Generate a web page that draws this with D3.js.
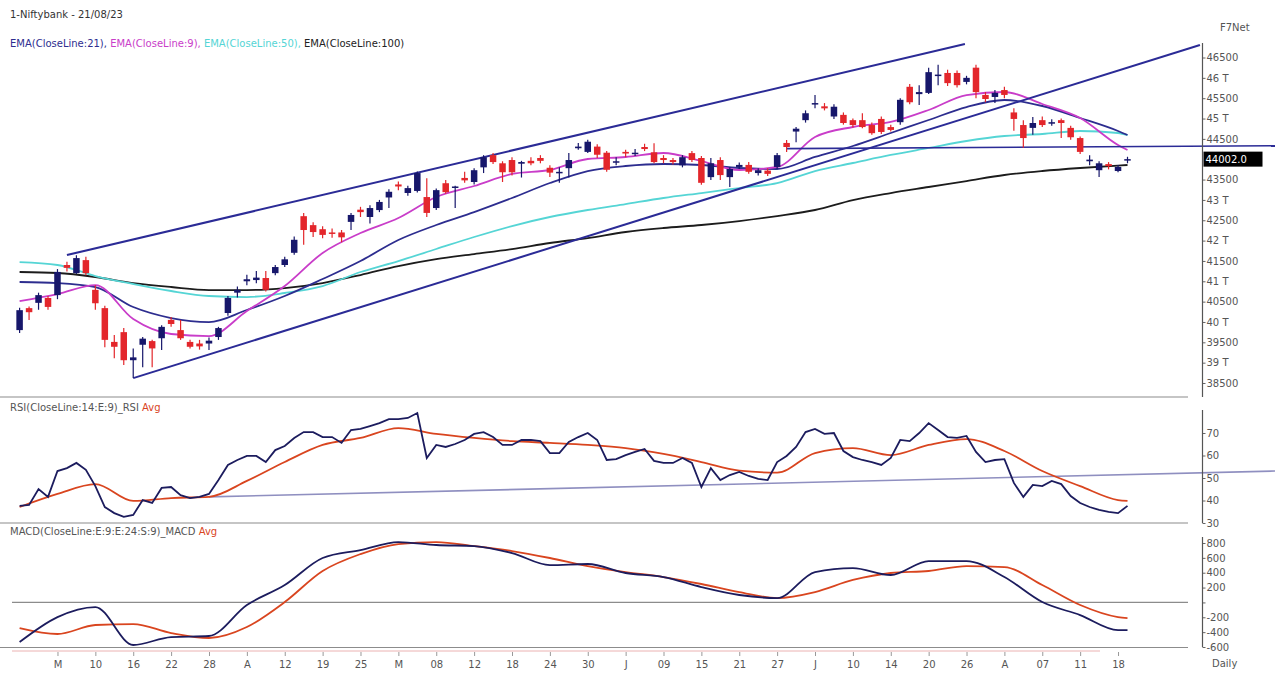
<!DOCTYPE html>
<html><head><meta charset="utf-8">
<script src="https://cdn.jsdelivr.net/npm/d3@7"></script>
<style>body{margin:0;background:#fff;} svg{display:block;font-family:"DejaVu Sans",Verdana,sans-serif;}</style>
</head><body><svg id="c" width="1275" height="685"></svg>
<script>
// ---------- DATA ----------
const open  = [39800,40340,40470,40590,40660,41400,41200,41520,40790,40340,39510,39750,39060,39440,39530,39600,40050,39800,39510,39470,39470,39630,40220,40720,41000,41030,41080,41200,41400,41700,42600,42380,42280,42200,42200,42460,42760,42580,42750,43060,43380,43170,43220,43070,42800,43410,43300,43540,43440,43800,44100,43900,43980,43890,43960,44030,43790,43660,43780,44270,44180,44310,44160,43920,44180,44130,44300,44170,44030,43980,43850,44150,44030,43560,43980,43560,43810,43860,43660,43720,43810,44400,44680,44960,45350,45300,45050,45090,44960,44960,44840,44990,44790,44910,45780,45600,45630,46050,46120,46120,45900,46250,45580,45530,45700,45150,44840,44770,44960,44880,44960,44770,44520,43950,43730,43880,43710,43970];
const high  = [40350,40380,40720,40640,41300,41480,41640,41600,40900,40400,39680,39850,39350,39630,39560,39920,40120,40050,39560,39560,39620,39880,40640,40870,41160,41250,41250,41400,41600,42100,42680,42450,42350,42300,42260,42680,42830,42870,43000,43260,43450,43350,43700,43530,43280,43490,43350,43690,43780,44100,44150,43950,44050,43960,44050,44100,43850,43800,44150,44400,44480,44370,44200,44050,44230,44250,44380,44390,44100,44030,44100,44200,44080,44030,44050,43800,43920,43930,43780,43780,44150,44470,44790,45200,45580,45380,45350,45150,45000,45130,44900,45050,44850,45500,45850,45820,46250,46320,46200,46180,46050,46320,45650,45700,45780,45250,44960,45040,45050,44980,45000,44820,44560,44100,43950,43930,43860,44060];
const low   = [39730,40050,40300,40300,40560,41240,41180,41150,40300,39380,39110,38940,38620,38890,38890,39310,39880,39560,39350,39320,39310,39560,40150,40600,40900,40950,40750,41150,41350,41650,41900,42090,42060,42070,41960,42260,42580,42420,42700,42800,43240,43100,43180,42580,42750,43150,42800,43420,43380,43660,43880,43440,43600,43550,43850,43900,43560,43420,43550,44230,44150,44030,43690,43850,44050,44080,44200,43900,43900,43870,43800,43930,43370,43490,43490,43320,43760,43640,43600,43590,43760,44180,44420,44900,45250,45200,44990,44850,44780,44760,44600,44620,44680,44850,45350,45330,45600,45820,45800,45760,45840,45500,45400,45380,45500,44700,44280,44600,44790,44820,44520,44480,44130,43850,43560,43750,43680,43900];
const close = [40290,40240,40660,40370,41230,41330,41570,41200,40460,39560,39390,39060,39130,39590,39350,39880,39950,39600,39390,39400,39540,39850,40590,40790,41050,41090,40790,41350,41540,42020,42260,42210,42140,42170,42080,42630,42700,42800,42950,43200,43330,43290,43660,42680,43240,43190,43330,43480,43730,44050,43930,43680,43680,43930,43900,43960,43670,43690,43980,44310,44430,44110,43740,43950,44140,44160,44250,43930,43980,43930,44050,43980,43420,43900,43610,43760,43860,43690,43730,43640,44100,44300,44750,45130,45380,45250,45290,44890,44840,44790,44640,44670,44720,45460,45400,45650,46140,46080,45870,45820,46000,45650,45480,45630,45580,44990,44520,44890,44840,44910,44890,44540,44180,43990,43900,43830,43810,44002];

// x-axis categories (every 4th session)
const tickIdx    = [4,8,12,16,20,24,28,32,36,40,44,48,52,56,60,64,68,72,76,80,84,88,92,96,100,104,108,112,116];
const tickLabels = ["M","10","16","22","28","A","12","19","25","M","08","12","18","24","30","J","09","15","21","27","J","10","14","20","26","A","07","11","18"];

// sampled indicator series (sessions listed in sampleIdx)
const sampleIdx = [0,4,8,12,16,20,24,28,32,36,40,44,48,52,56,60,64,68,72,76,80,84,88,92,96,100,104,108,112,116,117];
const ema100 = [41228,41203,41105,40957,40859,40785,40785,40834,40957,41154,41375,41547,41670,41793,41941,42063,42211,42309,42383,42481,42604,42752,42997,43169,43317,43464,43612,43710,43784,43845,43858];
const ema50  = [41473,41400,41129,40933,40761,40638,40613,40712,40883,41228,41498,41793,42088,42358,42580,42752,42899,43047,43169,43292,43415,43710,43907,44104,44276,44448,44571,44620,44693,44644,44595];
const ema21  = [40982,40957,40859,40367,40097,39998,40294,40638,41055,41498,42014,42383,42702,43047,43415,43710,43833,43882,43858,43784,43759,44055,44325,44644,44964,45283,45455,45308,45013,44693,44595];
const ema9   = [40515,40687,40908,40072,39704,39654,40269,40883,41695,42186,42555,43071,43342,43637,43735,44005,44055,44153,43956,43735,43809,44546,44792,44915,45210,45578,45652,45357,45013,44349,44226];

const rsi = [37.6,38.0,45.1,41.6,53.1,54.4,56.7,53.6,46.4,37.1,34.4,32.7,33.6,40.2,38.9,45.6,46.0,42.4,41.1,41.6,42.9,49.1,55.8,58.0,59.8,59.8,57.1,62.4,64.2,67.8,70.4,70.4,68.2,68.2,65.6,71.3,71.8,73.1,74.4,76.2,76.2,76.7,78.9,58.9,64.7,63.8,65.1,66.9,69.6,70.4,68.2,64.7,64.7,66.9,66.9,66.4,61.1,61.1,66.0,68.2,70.0,66.9,58.0,58.4,60.2,61.6,62.9,57.6,56.7,56.7,58.9,56.7,46.0,54.4,49.1,51.3,52.7,50.9,49.6,49.1,57.1,59.8,63.8,70.4,71.8,69.6,70.0,62.0,59.3,58.0,57.1,55.8,58.9,66.9,66.4,70.0,74.4,71.3,68.2,67.8,68.7,61.6,57.1,58.0,58.4,47.8,41.6,46.9,46.4,48.7,47.3,42.0,38.9,37.1,35.8,34.9,34.4,37.6];
const rsiAvg  = [37.1,42.9,47.3,39.8,41.1,41.6,48.7,57.1,64.7,67.8,72.2,69.6,67.8,66.4,65.6,64.7,63.3,60.7,57.1,53.3,52.4,61.1,63.3,60.2,64.7,67.3,62.0,53.1,46.4,40.2,39.8];
const macd    = [-533,-197,-62,-573,-466,-452,-35,234,598,705,813,773,759,665,503,517,396,342,207,100,59,409,463,369,557,557,342,5,-170,-372,-372];
const macdAvg = [-345,-425,-304,-291,-412,-479,-331,5,423,651,786,813,759,692,598,490,409,342,248,140,59,140,302,396,423,490,476,234,-35,-197,-210];

// drawn trend lines (session index, value)
const upperIdx = [5.0, 99.83],  upperPrice = [41645, 46832];
const lowerIdx = [12, 124.65],  lowerPrice = [38620, 46807];
const hIdx     = [81, 132.6],   hPrice     = [44260, 44330];
const rsiTrIdx = [20, 132.6],   rsiTrVal   = [41.6, 53.1];

// 44000 is covered by the last-price tag, as in the original
const priceTicks = [38500,39000,39500,40000,40500,41000,41500,42000,42500,43000,43500,44500,45000,45500,46000,46500];
const rsiTicks   = [30,40,50,60,70];
const macdTicks  = [-600,-400,-200,0,200,400,600,800];
const lastPrice  = 44002.0;

// ---------- SCALES ----------
const svg = d3.select("#c");
const x  = d3.scaleLinear().domain([0,117]).range([19.6,1127.5]);
const yP = d3.scaleLinear().domain([38500,46500]).range([383,57.5]);
const yR = d3.scaleLinear().domain([30,70]).range([523,433]);
const yM = d3.scaleLinear().domain([-600,800]).range([647,543]);
const AX = 1202.5;

const C = {navy:"#17176b", red:"#e3262b", e21:"#2d2d8f", e9:"#c93dc9", e50:"#55d5d5", e100:"#1c1c1c",
           chan:"#2b2b96", txt:"#555"};

// ---------- HEADER ----------
svg.append("text").attr("x",10).attr("y",18).attr("font-size",10).attr("fill","#333").text("1-Niftybank - 21/08/23");
const leg = svg.append("text").attr("x",10).attr("y",47).attr("font-size",10);
[["EMA(CloseLine:21), ",C.e21],["EMA(CloseLine:9), ",C.e9],["EMA(CloseLine:50), ",C.e50],["EMA(CloseLine:100)","#222"]]
  .forEach(([t,c])=>leg.append("tspan").attr("fill",c).text(t));
svg.append("text").attr("x",1220).attr("y",31).attr("font-size",10).attr("fill","#555").text("F7Net");

// ---------- PANEL LINES ----------
[397,523,647.5].forEach(yy=>svg.append("line").attr("x1",0).attr("x2",1188).attr("y1",yy).attr("y2",yy)
  .attr("stroke","#8c8c8c").attr("stroke-width",1.2));
svg.append("line").attr("x1",12).attr("x2",1188).attr("y1",yM(0)).attr("y2",yM(0)).attr("stroke","#8c8c8c").attr("stroke-width",1.2);
svg.append("line").attr("x1",12).attr("x2",1100).attr("y1",651).attr("y2",651).attr("stroke","#e6a0a0").attr("stroke-width",0.8);

// ---------- MAIN PANEL ----------
const main = svg.append("g");
const lineS = (arr, ys) => d3.line().curve(d3.curveMonotoneX).x((d,i)=>x(sampleIdx[i])).y(d=>ys(d))(arr);
[[ema100,C.e100],[ema50,C.e50],[ema21,C.e21],[ema9,C.e9]].forEach(([a,c])=>
  main.append("path").attr("d",lineS(a,yP)).attr("fill","none").attr("stroke",c).attr("stroke-width",1.8));

const seg = (ix, vals, ys) => d3.line().x((d,i)=>x(ix[i])).y(d=>ys(d))(vals);
main.append("path").attr("d",seg(upperIdx,upperPrice,yP)).attr("stroke",C.chan).attr("stroke-width",2).attr("fill","none");
main.append("path").attr("d",seg(lowerIdx,lowerPrice,yP)).attr("stroke",C.chan).attr("stroke-width",2).attr("fill","none");
main.append("path").attr("d",seg(hIdx,hPrice,yP)).attr("stroke",C.chan).attr("stroke-width",1.6).attr("fill","none");

const cg = main.append("g");
close.forEach((c,i)=>{
  const up = c >= open[i];
  const col = up ? C.navy : C.red;
  cg.append("line").attr("x1",x(i)).attr("x2",x(i)).attr("y1",yP(high[i])).attr("y2",yP(low[i])).attr("stroke",col).attr("stroke-width",1.2);
  const y0 = yP(Math.max(open[i],c)), y1 = yP(Math.min(open[i],c));
  cg.append("rect").attr("x",x(i)-3.25).attr("width",6.5).attr("y",y0).attr("height",Math.max(1.5,y1-y0)).attr("fill",col);
});

// price axis
const pa = svg.append("g").attr("transform",`translate(${AX},0)`)
  .call(d3.axisRight(yP).tickValues(priceTicks).tickSize(3).tickPadding(1)
    .tickFormat(v => v%1000===0 ? (v/1000)+" T" : String(v)));
pa.select(".domain").remove();
pa.selectAll("text").attr("font-size",10).attr("fill",C.txt).attr("font-family","DejaVu Sans, Verdana, sans-serif");
pa.selectAll("line").attr("stroke","#666");
svg.append("line").attr("x1",AX).attr("x2",AX).attr("y1",43).attr("y2",397).attr("stroke","#555").attr("stroke-width",1.2);
// last price tag
const lp = svg.append("g").attr("transform",`translate(${AX+1},${yP(lastPrice)})`);
lp.append("rect").attr("x",0).attr("y",-7.5).attr("width",59).attr("height",15).attr("fill","#000");
lp.append("text").attr("x",2).attr("y",4).attr("font-size",10).attr("fill","#fff").text(lastPrice.toFixed(1));

// ---------- RSI PANEL ----------
svg.append("text").attr("x",10).attr("y",411).attr("font-size",10).call(t=>{
  t.append("tspan").attr("fill",C.txt).text("RSI(CloseLine:14:E:9)_RSI ");
  t.append("tspan").attr("fill","#d9451f").text("Avg");
});
svg.append("path").attr("d",seg(rsiTrIdx,rsiTrVal,yR)).attr("stroke","#8f8fc0").attr("stroke-width",1.6).attr("fill","none");
svg.append("path").attr("d",lineS(rsiAvg,yR)).attr("fill","none").attr("stroke","#d9451f").attr("stroke-width",1.8);
svg.append("path").attr("d",d3.line().x((d,i)=>x(i)).y(d=>yR(d))(rsi)).attr("fill","none").attr("stroke","#1c1c5e").attr("stroke-width",1.8);
const ra = svg.append("g").attr("transform",`translate(${AX},0)`).call(d3.axisRight(yR).tickValues(rsiTicks).tickSize(3).tickPadding(1));
ra.select(".domain").remove();
ra.selectAll("text").attr("font-size",10).attr("fill",C.txt).attr("font-family","DejaVu Sans, Verdana, sans-serif");
ra.selectAll("line").attr("stroke","#666");
svg.append("line").attr("x1",AX).attr("x2",AX).attr("y1",410).attr("y2",523).attr("stroke","#555").attr("stroke-width",1.2);

// ---------- MACD PANEL ----------
svg.append("text").attr("x",10).attr("y",535).attr("font-size",10).call(t=>{
  t.append("tspan").attr("fill",C.txt).text("MACD(CloseLine:E:9:E:24:S:9)_MACD ");
  t.append("tspan").attr("fill","#d9451f").text("Avg");
});
svg.append("path").attr("d",lineS(macdAvg,yM)).attr("fill","none").attr("stroke","#d9451f").attr("stroke-width",1.8);
svg.append("path").attr("d",lineS(macd,yM)).attr("fill","none").attr("stroke","#1c1c5e").attr("stroke-width",1.8);
const ma = svg.append("g").attr("transform",`translate(${AX},0)`).call(d3.axisRight(yM).tickValues(macdTicks).tickSize(3).tickPadding(1)
  .tickFormat(v => v===0 ? "" : String(v)));
ma.select(".domain").remove();
ma.selectAll("text").attr("font-size",10).attr("fill",C.txt).attr("font-family","DejaVu Sans, Verdana, sans-serif");
ma.selectAll("line").attr("stroke","#666");
svg.append("line").attr("x1",AX).attr("x2",AX).attr("y1",537).attr("y2",647).attr("stroke","#555").attr("stroke-width",1.2);

// ---------- X AXIS ----------
const xa = svg.append("g").attr("transform","translate(0,652)")
  .call(d3.axisBottom(x).tickValues(tickIdx).tickSize(4).tickPadding(5).tickFormat((d,i)=>tickLabels[i]));
xa.select(".domain").remove();
xa.selectAll("text").attr("font-size",10).attr("fill",C.txt).attr("font-family","DejaVu Sans, Verdana, sans-serif");
xa.selectAll("line").attr("stroke","#999");
svg.append("text").attr("x",1212).attr("y",667).attr("font-size",10).attr("fill",C.txt).text("Daily");
</script></body></html>
